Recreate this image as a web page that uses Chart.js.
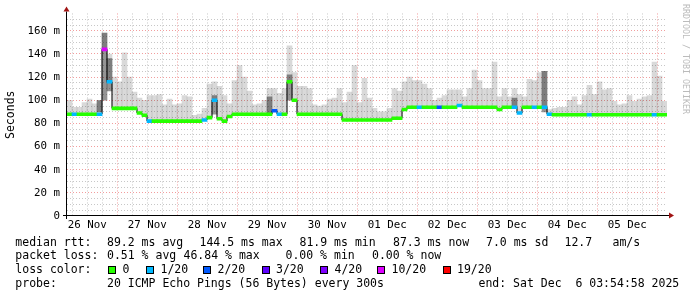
<!DOCTYPE html>
<html>
<head>
<meta charset="utf-8">
<script src="https://cdn.jsdelivr.net/npm/chart.js@4.4.1/dist/chart.umd.min.js"></script>
<style>
html, body { margin: 0; padding: 0; background: #fff; }
#wrap { position: relative; width: 697px; height: 297px; overflow: hidden; font-family: 'DejaVu Sans Mono', monospace; }
#wrap canvas { position: absolute; left: 0; top: 0; }
.t { position: absolute; font-size: 11.5px; line-height: 14px; white-space: pre; color: #000; }
.sw { position: absolute; width: 6px; height: 6px; border: 1px solid #000; }
#rrd { position: absolute; left: 681px; top: 4px; font-size: 8.3px; line-height: 10px; color: #bbb; writing-mode: vertical-rl; white-space: pre; }
</style>
</head>
<body>
<div id="wrap">
  <canvas id="smoke" width="697" height="297"></canvas>
  <div id="rrd">RRDTOOL / TOBI OETIKER</div>
</div>
<script>
// day labels on the time axis (placed at noon)
const days = ['26 Nov', '27 Nov', '28 Nov', '29 Nov', '30 Nov', '01 Dec', '02 Dec', '03 Dec', '04 Dec', '05 Dec'];

// time buckets: hours since 26 Nov 00:00, first bucket starts 03:55, 2h each
const startHour = 3.92;
const stepHours = 2;

// median rtt per bucket (ms)
const median = [
  88, 88, 88, 88, 88, 88, 88, 144, 116, 93,
  93, 93, 93, 93, 89, 87, 82, 82, 82, 82,
  82, 82, 82, 82, 82, 82, 82, 83, 85, 100,
  84, 82, 86, 88, 88, 88, 88, 88, 88, 88,
  88, 91, 88, 88, 116, 100, 88, 88, 88, 88,
  88, 88, 88, 88, 88, 83, 83, 83, 83, 83,
  83, 83, 83, 83, 83, 84.5, 84.5, 92, 94, 94,
  94, 94, 94, 94, 94, 94, 94, 94, 95.5, 94,
  94, 94, 94, 94, 94, 94, 92, 94, 94, 94,
  89, 94, 94, 94, 94, 94, 88, 87.5, 87.5, 87.5,
  87.5, 87.5, 87.5, 87.5, 87.5, 87.5, 87.5, 87.5, 87.5, 87.5,
  87.5, 87.5, 87.5, 87.5, 87.5, 87.5, 87.5, 87.5, 87.5, 87.5
];

// lost pings (of 20) per bucket
const loss = [
  0, 1, 0, 0, 0, 0, 1, 10, 1, 0,
  0, 0, 0, 0, 0, 0, 1, 0, 0, 0,
  0, 0, 0, 0, 0, 0, 0, 1, 0, 1,
  0, 0, 0, 0, 0, 0, 0, 0, 0, 0,
  0, 2, 1, 0, 0, 0, 0, 0, 0, 0,
  0, 0, 0, 0, 0, 0, 0, 0, 0, 0,
  0, 0, 0, 0, 0, 0, 0, 0, 0, 0,
  1, 0, 0, 0, 2, 0, 0, 0, 1, 0,
  0, 0, 0, 0, 0, 0, 0, 0, 0, 1,
  1, 0, 0, 1, 0, 1, 1, 0, 0, 0,
  0, 0, 0, 0, 1, 0, 0, 0, 0, 0,
  0, 0, 0, 0, 0, 0, 0, 1, 0, 0
];

// top of the smoke (slowest ping) per bucket (ms)
const smokeHi = [
  100, 94, 94, 98, 101, 97, 99, 158, 140, 120,
  116, 141, 120, 107, 102, 100, 104, 104, 105, 96,
  101, 96, 97, 104, 103, 87, 88, 93, 114, 116,
  112, 104, 97, 117, 130, 120, 108, 96, 97, 100,
  110, 110, 106, 110, 147, 124, 112, 112, 110, 96,
  95, 96, 101, 102, 110, 98, 107, 130, 98, 119,
  102, 93, 90, 90, 93, 110, 108, 116, 120, 117,
  117, 114, 110, 100, 102, 104, 109, 109, 109, 103,
  110, 126, 117, 110, 110, 133, 103, 110, 103, 110,
  105, 103, 118, 117, 124, 125, 92, 93, 94, 94,
  100, 103, 96, 104, 113, 105, 116, 109, 110, 99,
  96, 97, 104, 99, 101, 103, 104, 133, 121, 99
];

// dense smoke: [bucket, low, high]
const darkSmoke = [
  [6, 90, 100], [7, 100, 158], [8, 108, 136], [29, 88, 104],
  [40, 88, 103], [44, 100, 122], [89, 94, 102], [95, 90, 125]
];

const lossSteps = [0, 1, 2, 3, 4, 10, 19];
const lossLabels = ['0', '1/20', '2/20', '3/20', '4/20', '10/20', '19/20'];
const lossColors = ['#26ff00', '#00b8ff', '#0059ff', '#5e00ff', '#7e00ff', '#dd00ff', '#ff0000'];

const rttStats = ['89.2 ms avg', '144.5 ms max', '81.9 ms min', '87.3 ms now', '7.0 ms sd', '12.7', 'am/s'];
const lossStats = ['0.51 % avg', '46.84 % max', '0.00 % min', '0.00 % now'];
const probeText = '20 ICMP Echo Pings (56 Bytes) every 300s';
const endText = 'end: Sat Dec  6 03:54:58 2025';

function lossColor(n) {
  let c = lossColors[0];
  lossSteps.forEach((s, k) => { if (n >= s) c = lossColors[k]; });
  return c;
}

// legend text (html)
const wrap = document.getElementById('wrap');
function text(x, y, s) {
  const d = document.createElement('div');
  d.className = 't';
  d.style.left = x + 'px';
  d.style.top = y + 'px';
  d.textContent = s;
  wrap.appendChild(d);
}
const rowTop = [234.7, 248, 262, 275.7];
const rttX = [107, 199.5, 299.5, 393, 486, 564.5, 612.5];
const lossX = [107, 183.5, 285.5, 372];
const swatchX = [108, 146, 203, 261.5, 320, 377, 442.5];

text(15.3, rowTop[0], 'median rtt:');
rttStats.forEach((s, i) => text(rttX[i], rowTop[0], s));
text(15.3, rowTop[1], 'packet loss:');
lossStats.forEach((s, i) => text(lossX[i], rowTop[1], s));
text(15.3, rowTop[2], 'loss color:');
lossLabels.forEach((s, i) => {
  const sw = document.createElement('div');
  sw.className = 'sw';
  sw.style.left = swatchX[i] + 'px';
  sw.style.top = (rowTop[2] + 3.7) + 'px';
  sw.style.background = lossColors[i];
  wrap.appendChild(sw);
  text(swatchX[i] + 14.5, rowTop[2], s);
});
text(15.3, rowTop[3], 'probe:');
text(107, rowTop[3], probeText);
text(478.5, rowTop[3], endText);

// chart
const xs = median.map((_, i) => startHour + stepHours * (i + 0.5));
const RED = 'rgba(230,60,60,0.5)';
const GREY = 'rgba(130,130,130,0.45)';

const axisArrows = {
  id: 'axisArrows',
  afterDraw(chart) {
    const { ctx, chartArea: a } = chart;
    const y0 = a.bottom - 0.5, x0 = a.left - 0.5;
    ctx.save();
    ctx.strokeStyle = '#000';
    ctx.lineWidth = 1;
    ctx.beginPath();
    ctx.moveTo(a.left - 4, y0);
    ctx.lineTo(a.right + 2, y0);
    ctx.moveTo(x0, a.bottom + 3);
    ctx.lineTo(x0, a.top - 2);
    ctx.stroke();
    ctx.fillStyle = '#a01414';
    ctx.beginPath();
    ctx.moveTo(a.right + 2, y0 - 3);
    ctx.lineTo(a.right + 7, y0);
    ctx.lineTo(a.right + 2, y0 + 3);
    ctx.closePath();
    ctx.fill();
    ctx.beginPath();
    ctx.moveTo(x0 - 3, a.top - 2);
    ctx.lineTo(x0, a.top - 7);
    ctx.lineTo(x0 + 3, a.top - 2);
    ctx.closePath();
    ctx.fill();
    ctx.restore();
  }
};

Chart.defaults.font.family = "'DejaVu Sans Mono', monospace";
Chart.defaults.color = '#000';

new Chart(document.getElementById('smoke'), {
  type: 'bar',
  data: {
    datasets: [
      {
        type: 'bar',
        label: 'median',
        data: xs.map((x, i) => ({ x, y: [median[i] - 1.25, median[i] + 1.25] })),
        backgroundColor: loss.map(lossColor),
        order: 1
      },
      {
        type: 'line',
        label: 'median step',
        data: xs.map((x, i) => ({ x, y: median[i] })),
        stepped: 'middle',
        borderColor: '#000',
        borderWidth: 1,
        pointRadius: 0,
        order: 2
      },
      {
        type: 'bar',
        label: 'dense smoke',
        data: darkSmoke.map(([i, lo, hi]) => ({ x: xs[i], y: [lo, hi] })),
        backgroundColor: 'rgba(0,0,0,0.42)',
        order: 3
      },
      {
        type: 'bar',
        label: 'smoke',
        data: xs.map((x, i) => ({ x, y: [median[i], smokeHi[i]] })),
        backgroundColor: 'rgba(0,0,0,0.15)',
        order: 4
      }
    ]
  },
  options: {
    responsive: false,
    animation: false,
    devicePixelRatio: 1,
    datasets: {
      bar: { grouped: false, barPercentage: 1, categoryPercentage: 1, borderWidth: 0 }
    },
    layout: { padding: { left: 0, top: 13, right: 30, bottom: 65 } },
    plugins: { legend: { display: false }, tooltip: { enabled: false } },
    scales: {
      x: {
        type: 'linear',
        min: startHour,
        max: startHour + 240,
        offset: false,
        afterBuildTicks: s => {
          s.ticks = [];
          for (let h = 6; h <= 240; h += 6) s.ticks.push({ value: h });
        },
        afterFit: s => { s.height = 16; },
        ticks: {
          autoSkip: false,
          maxRotation: 0,
          padding: 3,
          font: { size: 10.8 },
          callback: v => (v % 24 === 12 ? days[(v - 12) / 24] : '')
        },
        grid: {
          drawTicks: false,
          offset: false,
          lineWidth: 1,
          color: c => (c.tick && c.tick.value % 24 === 0 ? RED : GREY)
        },
        border: { display: false, dash: [1, 2] }
      },
      y: {
        min: 0,
        max: 175,
        afterBuildTicks: s => {
          s.ticks = [];
          for (let v = 0; v <= 170; v += 5) s.ticks.push({ value: v });
        },
        afterFit: s => { s.width = 67; },
        ticks: {
          autoSkip: false,
          padding: 7,
          font: { size: 10.8 },
          callback: v => (v % 20 ? '' : (v ? v + ' m' : '0'))
        },
        grid: {
          drawTicks: false,
          lineWidth: 1,
          color: c => (c.tick && c.tick.value % 20 === 0 ? RED : GREY)
        },
        border: { display: false, dash: [1, 2] },
        title: {
          display: true,
          text: 'Seconds',
          font: { size: 11.5 },
          padding: { top: 4, bottom: 0 }
        }
      }
    }
  },
  plugins: [axisArrows]
});
</script>
</body>
</html>
